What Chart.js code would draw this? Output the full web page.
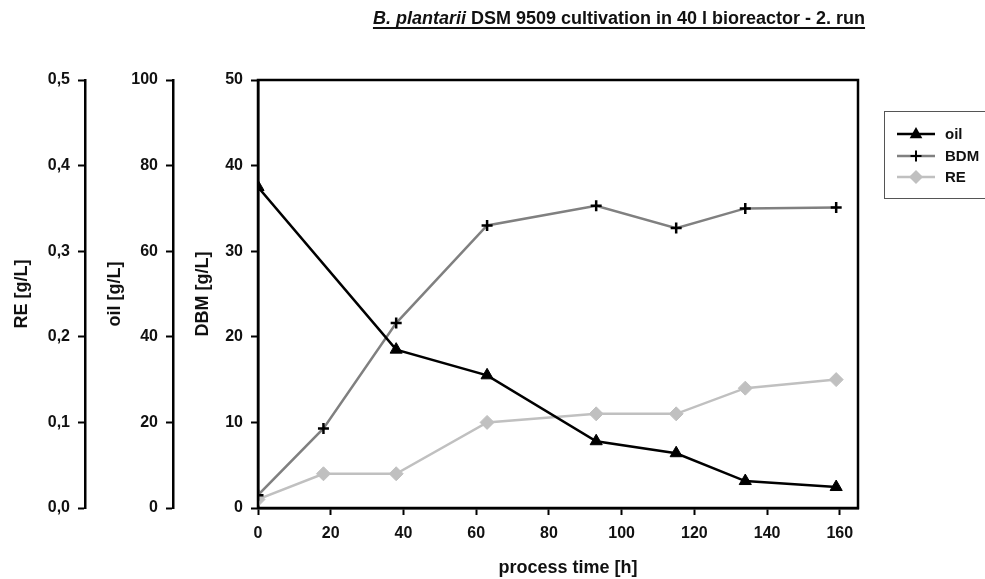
<!DOCTYPE html>
<html>
<head>
<meta charset="utf-8">
<script src="https://cdn.jsdelivr.net/npm/chart.js@4.4.1/dist/chart.umd.min.js"></script>
<style>
  body { margin: 0; background: #fff; }
  #wrap { width: 985px; height: 579px; }
</style>
</head>
<body>
<div id="wrap"><canvas id="myChart" width="985" height="579"></canvas></div>
<script>
// sampling times [h]
const times = [0, 18, 38, 63, 93, 115, 134, 159];
const oilTimes = [0, 38, 63, 93, 115, 134, 159];
// measured values
const oilValues = [75, 37, 31, 15.6, 12.8, 6.3, 4.9];      // g/L
const bdmValues = [1.5, 9.3, 21.6, 33.0, 35.3, 32.7, 35.0, 35.1]; // g/L
const reValues = [0.01, 0.04, 0.04, 0.10, 0.11, 0.11, 0.14, 0.15]; // g/L
const xTicks = [0, 20, 40, 60, 80, 100, 120, 140, 160];

const FONT = '"Liberation Sans", Arial, sans-serif';
const tickFont = { family: FONT, size: 16, weight: 'bold' };
const titleFont = { family: FONT, size: 18, weight: 'bold' };

function pts(xs, ys) {
  return xs.map((x, i) => ({ x: x, y: ys[i] }));
}

// axis with tick marks only, no grid lines inside the plot
function leftAxis(min, max, step, weight, width, title, titlePad, fmt) {
  return {
    type: 'linear',
    position: 'left',
    weight: weight,
    min: min,
    max: max,
    afterFit: function(scale) { scale.width = width; },
    ticks: {
      stepSize: step,
      padding: 8,
      color: '#111',
      font: tickFont,
      callback: fmt || (v => v)
    },
    grid: {
      drawOnChartArea: false,
      drawTicks: true,
      tickLength: 7,
      tickWidth: 2,
      tickColor: '#000'
    },
    border: { display: true, color: '#000', width: 2.5 },
    title: {
      display: true,
      text: title,
      color: '#111',
      font: titleFont,
      padding: { top: titlePad, bottom: 0 }
    }
  };
}

// title with italic species name and underline, plus the time axis caption
const headline = {
  id: 'headline',
  afterDraw(chart) {
    const c = chart.ctx;
    const part1 = 'B. plantarii';
    const part2 = ' DSM 9509 cultivation in 40 l bioreactor - 2. run';
    c.save();
    c.fillStyle = '#111';
    c.textBaseline = 'alphabetic';
    c.font = 'italic bold 18px ' + FONT;
    const w1 = c.measureText(part1).width;
    c.font = 'bold 18px ' + FONT;
    const w2 = c.measureText(part2).width;
    const x0 = 619 - (w1 + w2) / 2;
    const y0 = 24;
    c.font = 'italic bold 18px ' + FONT;
    c.fillText(part1, x0, y0);
    c.font = 'bold 18px ' + FONT;
    c.fillText(part2, x0 + w1, y0);
    c.strokeStyle = '#111';
    c.lineWidth = 2;
    c.beginPath();
    c.moveTo(x0, y0 + 4);
    c.lineTo(x0 + w1 + w2, y0 + 4);
    c.stroke();

    c.textAlign = 'center';
    c.textBaseline = 'middle';
    c.fillText('process time [h]', 568, 568);
    c.restore();
  }
};

// frame round the plot area
const frame = {
  id: 'frame',
  afterDatasetsDraw(chart) {
    const a = chart.chartArea;
    const c = chart.ctx;
    c.save();
    c.strokeStyle = '#000';
    c.lineWidth = 2.5;
    c.strokeRect(a.left, a.top, a.right - a.left, a.bottom - a.top);
    c.restore();
  }
};

function drawMarker(c, style, x, y, r, fill, stroke) {
  c.save();
  c.fillStyle = fill;
  c.strokeStyle = stroke;
  c.lineWidth = 2;
  c.beginPath();
  if (style === 'triangle') {
    c.moveTo(x, y - r);
    c.lineTo(x + r * 0.9, y + r * 0.6);
    c.lineTo(x - r * 0.9, y + r * 0.6);
    c.closePath();
    c.fill();
  } else if (style === 'cross') {
    c.moveTo(x - r, y); c.lineTo(x + r, y);
    c.moveTo(x, y - r); c.lineTo(x, y + r);
    c.stroke();
  } else {
    c.moveTo(x, y - r); c.lineTo(x + r, y);
    c.lineTo(x, y + r); c.lineTo(x - r, y);
    c.closePath();
    c.fill();
  }
  c.restore();
}

// legend box on the right
const sideLegend = {
  id: 'sideLegend',
  afterDraw(chart) {
    const c = chart.ctx;
    c.save();
    c.strokeStyle = '#555';
    c.lineWidth = 1;
    c.strokeRect(884.5, 111.5, 120, 87);
    c.font = 'bold 15px ' + FONT;
    c.textBaseline = 'middle';
    c.fillStyle = '#111';
    const rows = [134, 156, 177];
    chart.data.datasets.forEach((ds, i) => {
      const y = rows[i];
      c.strokeStyle = ds.borderColor;
      c.lineWidth = 2.5;
      c.beginPath();
      c.moveTo(897, y);
      c.lineTo(935, y);
      c.stroke();
      drawMarker(c, ds.pointStyle, 916, y, ds.pointRadius, ds.pointBackgroundColor, ds.pointBorderColor);
      c.fillStyle = '#111';
      c.fillText(ds.label, 945, y + 1);
    });
    c.restore();
  }
};

const ctx = document.getElementById('myChart').getContext('2d');
const myChart = new Chart(ctx, {
  type: 'line',
  data: {
    datasets: [{
      label: 'oil',
      data: pts(oilTimes, oilValues),
      yAxisID: 'yOil',
      borderColor: '#000',
      borderWidth: 2.5,
      pointStyle: 'triangle',
      pointRadius: 7,
      pointBackgroundColor: '#000',
      pointBorderColor: '#000',
      pointBorderWidth: 1,
      tension: 0
    }, {
      label: 'BDM',
      data: pts(times, bdmValues),
      yAxisID: 'y',
      borderColor: '#808080',
      borderWidth: 2.5,
      pointStyle: 'cross',
      pointRadius: 5.5,
      pointBackgroundColor: '#000',
      pointBorderColor: '#000',
      pointBorderWidth: 2.5,
      tension: 0
    }, {
      label: 'RE',
      data: pts(times, reValues),
      yAxisID: 'yRE',
      borderColor: '#c0c0c0',
      borderWidth: 2.5,
      pointStyle: 'rectRot',
      pointRadius: 7,
      pointBackgroundColor: '#c0c0c0',
      pointBorderColor: '#c0c0c0',
      pointBorderWidth: 1,
      tension: 0
    }]
  },
  options: {
    responsive: false,
    animation: false,
    layout: { padding: { top: 80, right: 127, left: 0, bottom: 0 } },
    plugins: {
      legend: { display: false },
      tooltip: { enabled: false }
    },
    scales: {
      x: {
        type: 'linear',
        position: 'bottom',
        min: 0,
        max: 165,
        afterFit: function(scale) { scale.height = 71; },
        afterBuildTicks: function(scale) {
          scale.ticks = xTicks.map(v => ({ value: v }));
        },
        ticks: {
          padding: 9,
          color: '#111',
          font: tickFont,
          maxRotation: 0
        },
        grid: {
          drawOnChartArea: false,
          drawTicks: true,
          tickLength: 7,
          tickWidth: 2,
          tickColor: '#000'
        },
        border: { display: true, color: '#000', width: 2.5 },
        title: { display: false }
      },
      y: leftAxis(0, 50, 10, 0, 85, 'DBM [g/L]', 19),
      yOil: leftAxis(0, 100, 20, 1, 88, 'oil [g/L]', 19),
      yRE: leftAxis(0, 0.5, 0.1, 2, 85, 'RE [g/L]', 11, v => v.toFixed(1).replace('.', ','))
    }
  },
  plugins: [headline, frame, sideLegend]
});
</script>
</body>
</html>
